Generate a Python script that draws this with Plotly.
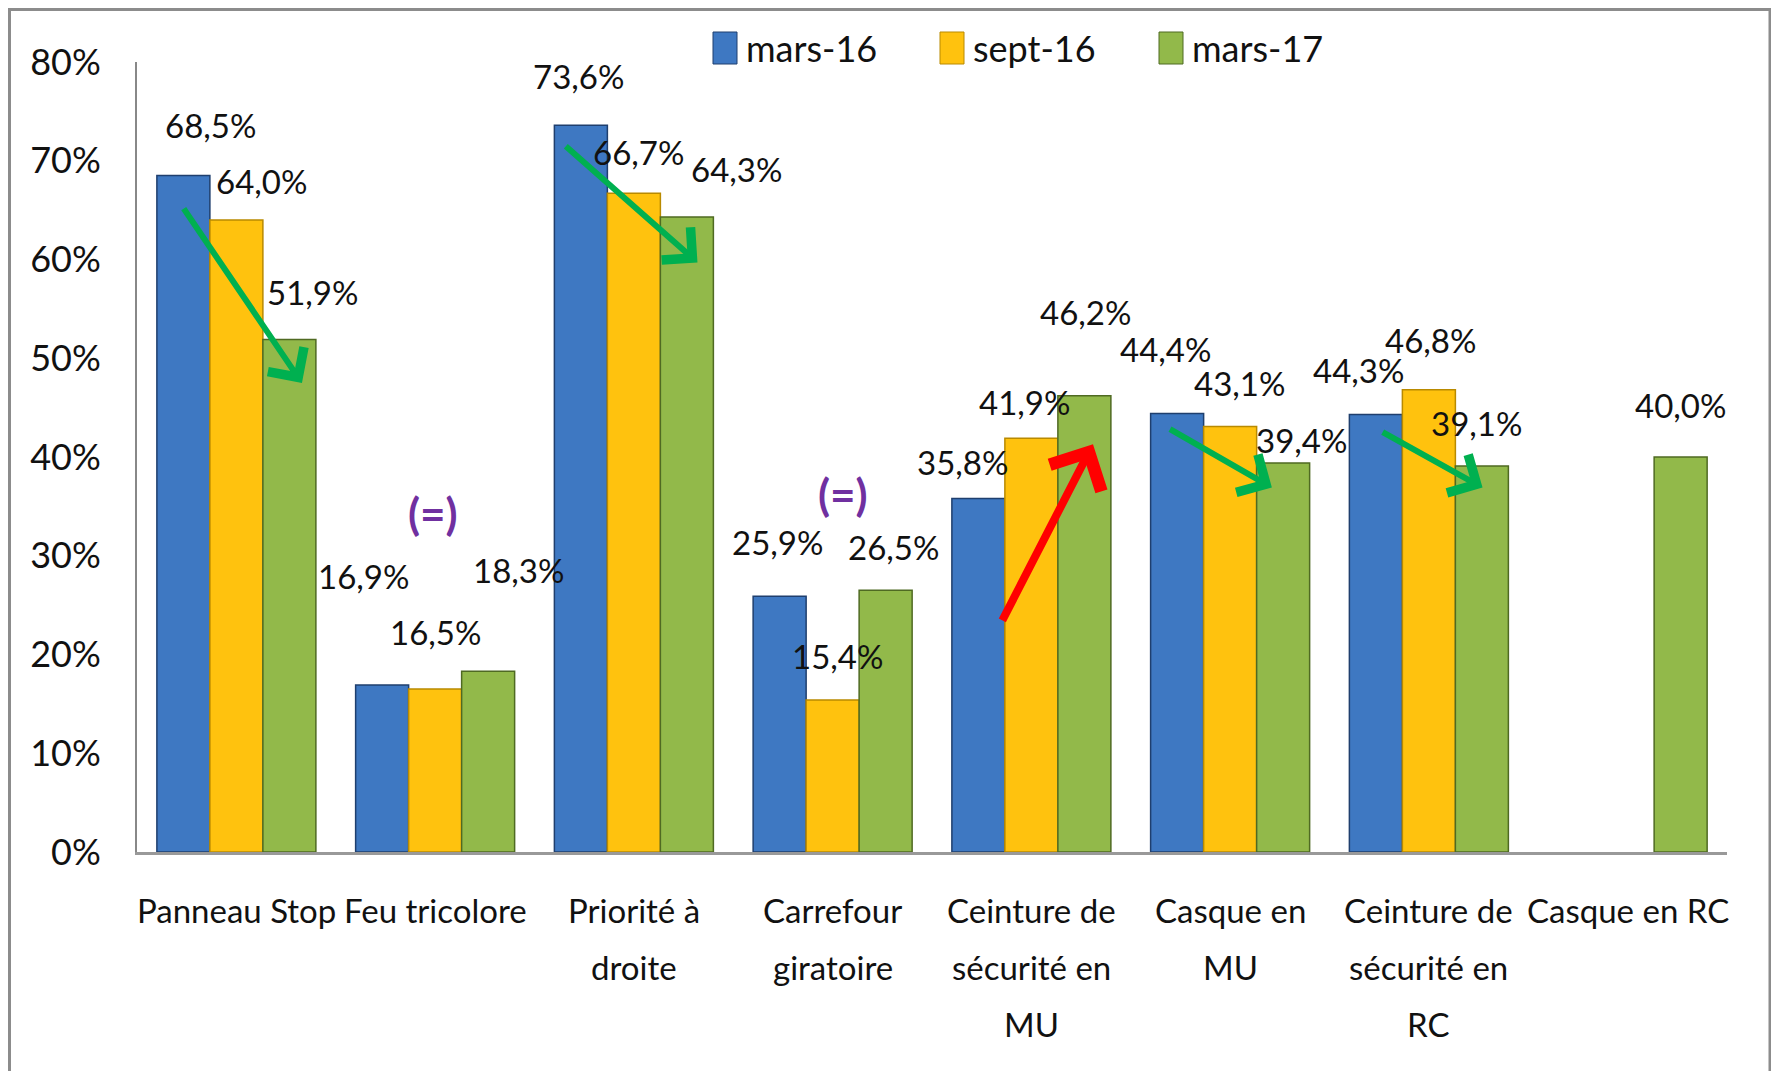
import plotly.graph_objects as go

# ---------------- data ----------------
categories = [
    "Panneau Stop",
    "Feu tricolore",
    "Priorité à<br>droite",
    "Carrefour<br>giratoire",
    "Ceinture de<br>sécurité en<br>MU",
    "Casque en<br>MU",
    "Ceinture de<br>sécurité en<br>RC",
    "Casque en RC",
]
series_names = ["mars-16", "sept-16", "mars-17"]
mars16 = [68.5, 16.9, 73.6, 25.9, 35.8, 44.4, 44.3, None]
sept16 = [64.0, 16.5, 66.7, 15.4, 41.9, 43.1, 46.8, None]
mars17 = [51.9, 18.3, 64.3, 26.5, 46.2, 39.4, 39.1, 40.0]
y_ticks = [0, 10, 20, 30, 40, 50, 60, 70, 80]
y_tick_text = [f"{v}%" for v in y_ticks]

# ---------------- style ----------------
OFF = 8  # browser body margin
W, H = 1779 - OFF, 1071 - OFF
ML, MT = 137 - OFF, 62 - OFF
MR, MB = 1779 - 1727, 1071 - 852
FONT = "Lato, Carlito, Calibri, sans-serif"
colors = ["#3E78C2", "#FFC20E", "#92B94A"]
edge_colors = ["#1F3F6E", "#B98A00", "#4F6A22"]
BARGAP = 0.2
pw = W - ML - MR
ph = H - MT - MB


def px_x(px):
    """page pixel x -> paper x"""
    return (px - OFF - ML) / pw


def px_y(py):
    """page pixel y -> paper y"""
    return (H - MB - (py - OFF)) / ph


# per-label pixel offsets (dx, dy) of the value label relative to bar top centre
label_offsets = [
    [(27, 51), (25, 39), (23, 47)],
    [(-19, 109), (0, 57), (30, 101)],
    [(-2, 49), (5, 41), (50, 48)],
    [(-2, 54), (5, 44), (8, 43)],
    [(-16, 36), (-7, 36), (1, 84)],
    [(-12, 65), (9, 43), (18, 23)],
    [(-17, 45), (2, 50), (-5, 43)],
    [None, None, (0, 52)],
]

fig = go.Figure()
all_series = [mars16, sept16, mars17]
for name, vals, c, ec in zip(series_names, all_series, colors, edge_colors):
    fig.add_trace(go.Bar(
        name=name, x=list(range(len(categories))), y=vals,
        marker=dict(color=c, line=dict(color=ec, width=1.5)),
        showlegend=False,
    ))

annotations = []
shapes = []
slot = (1 - BARGAP) / len(all_series)
for si, vals in enumerate(all_series):
    for ci, v in enumerate(vals):
        if v is None:
            continue
        dx, dy = label_offsets[ci][si]
        annotations.append(dict(
            x=ci + (si - 1) * slot, y=v, xref="x", yref="y",
            text=f"{v:.1f}".replace(".", ",") + "%", showarrow=False,
            xshift=dx, yshift=dy, xanchor="center", yanchor="middle",
            font=dict(family=FONT, size=33, color="#111111"),
        ))

# category labels, one annotation per line
for ci, cat in enumerate(categories):
    for li, line in enumerate(cat.split("<br>")):
        annotations.append(dict(
            x=ci, y=0, xref="x", yref="paper", text=line, showarrow=False,
            yshift=-58 - 57 * li, xanchor="center", yanchor="middle",
            font=dict(family=FONT, size=33, color="#111111"),
        ))

# trend arrows (head x,y ; tail ax,ay) in data space
arrows = [
    (0.33, 47.5, -0.27, 65.3, "#00B050", 6),
    (2.32, 59.7, 1.65, 71.6, "#00B050", 6),
    (5.21, 36.9, 4.69, 42.9, "#00B050", 6),
    (6.27, 36.9, 5.76, 42.6, "#00B050", 6),
    (4.31, 41.3, 3.85, 23.3, "#FF0000", 8),
]
for x, y, ax, ay, col, wdt in arrows:
    annotations.append(dict(
        x=x, y=y, ax=ax, ay=ay, xref="x", yref="y", axref="x", ayref="y",
        showarrow=True, arrowhead=4, arrowsize=1.4, arrowwidth=wdt,
        arrowcolor=col, text="", standoff=0,
    ))

# "(=)" markers
for x, y in [(0.99, 34.3), (3.05, 36.3)]:
    annotations.append(dict(
        x=x, y=y, xref="x", yref="y", text="<b>(=)</b>", showarrow=False,
        font=dict(family=FONT, size=44, color="#7030A0"),
    ))

# legend (swatch + label), drawn at the top
legend_swatch_left = [713, 940, 1159]
legend_y_center = 48
for name, c, ec, sx in zip(series_names, colors, edge_colors, legend_swatch_left):
    shapes.append(dict(
        type="rect", xref="paper", yref="paper",
        x0=px_x(sx), x1=px_x(sx + 24),
        y0=px_y(legend_y_center + 16), y1=px_y(legend_y_center - 16),
        fillcolor=c, line=dict(color=ec, width=1), layer="above",
    ))
    annotations.append(dict(
        x=px_x(sx + 31), y=px_y(legend_y_center), xref="paper", yref="paper",
        text=name, showarrow=False, xanchor="left", yanchor="middle",
        font=dict(family=FONT, size=36, color="#111111"),
    ))

# outer frame
shapes.append(dict(
    type="rect", xref="paper", yref="paper",
    x0=px_x(OFF + 1.5), x1=px_x(1770),
    y0=px_y(1200), y1=px_y(OFF + 1.5),
    line=dict(color="#8C8C8C", width=3), fillcolor="rgba(0,0,0,0)", layer="below",
))

fig.update_layout(
    width=W, height=H,
    margin=dict(l=ML, r=MR, t=MT, b=MB, autoexpand=False),
    paper_bgcolor="white", plot_bgcolor="white",
    barmode="group", bargap=BARGAP, bargroupgap=0,
    font=dict(family=FONT, size=33, color="#111111"),
    showlegend=False,
    xaxis=dict(
        type="linear", range=[-0.5, len(categories) - 0.5], showticklabels=False,
        showgrid=False, zeroline=False, showline=True, linecolor="#999999", linewidth=3,
        ticks="",
    ),
    yaxis=dict(
        range=[0, 80], tickvals=y_ticks, ticktext=y_tick_text, showgrid=False, zeroline=False,
        showline=True, linecolor="#888888", linewidth=2, ticks="",
        tickfont=dict(family=FONT, size=36, color="#111111"), ticklabelstandoff=27,
    ),
    annotations=annotations, shapes=shapes,
)

fig.write_html("out.html")
